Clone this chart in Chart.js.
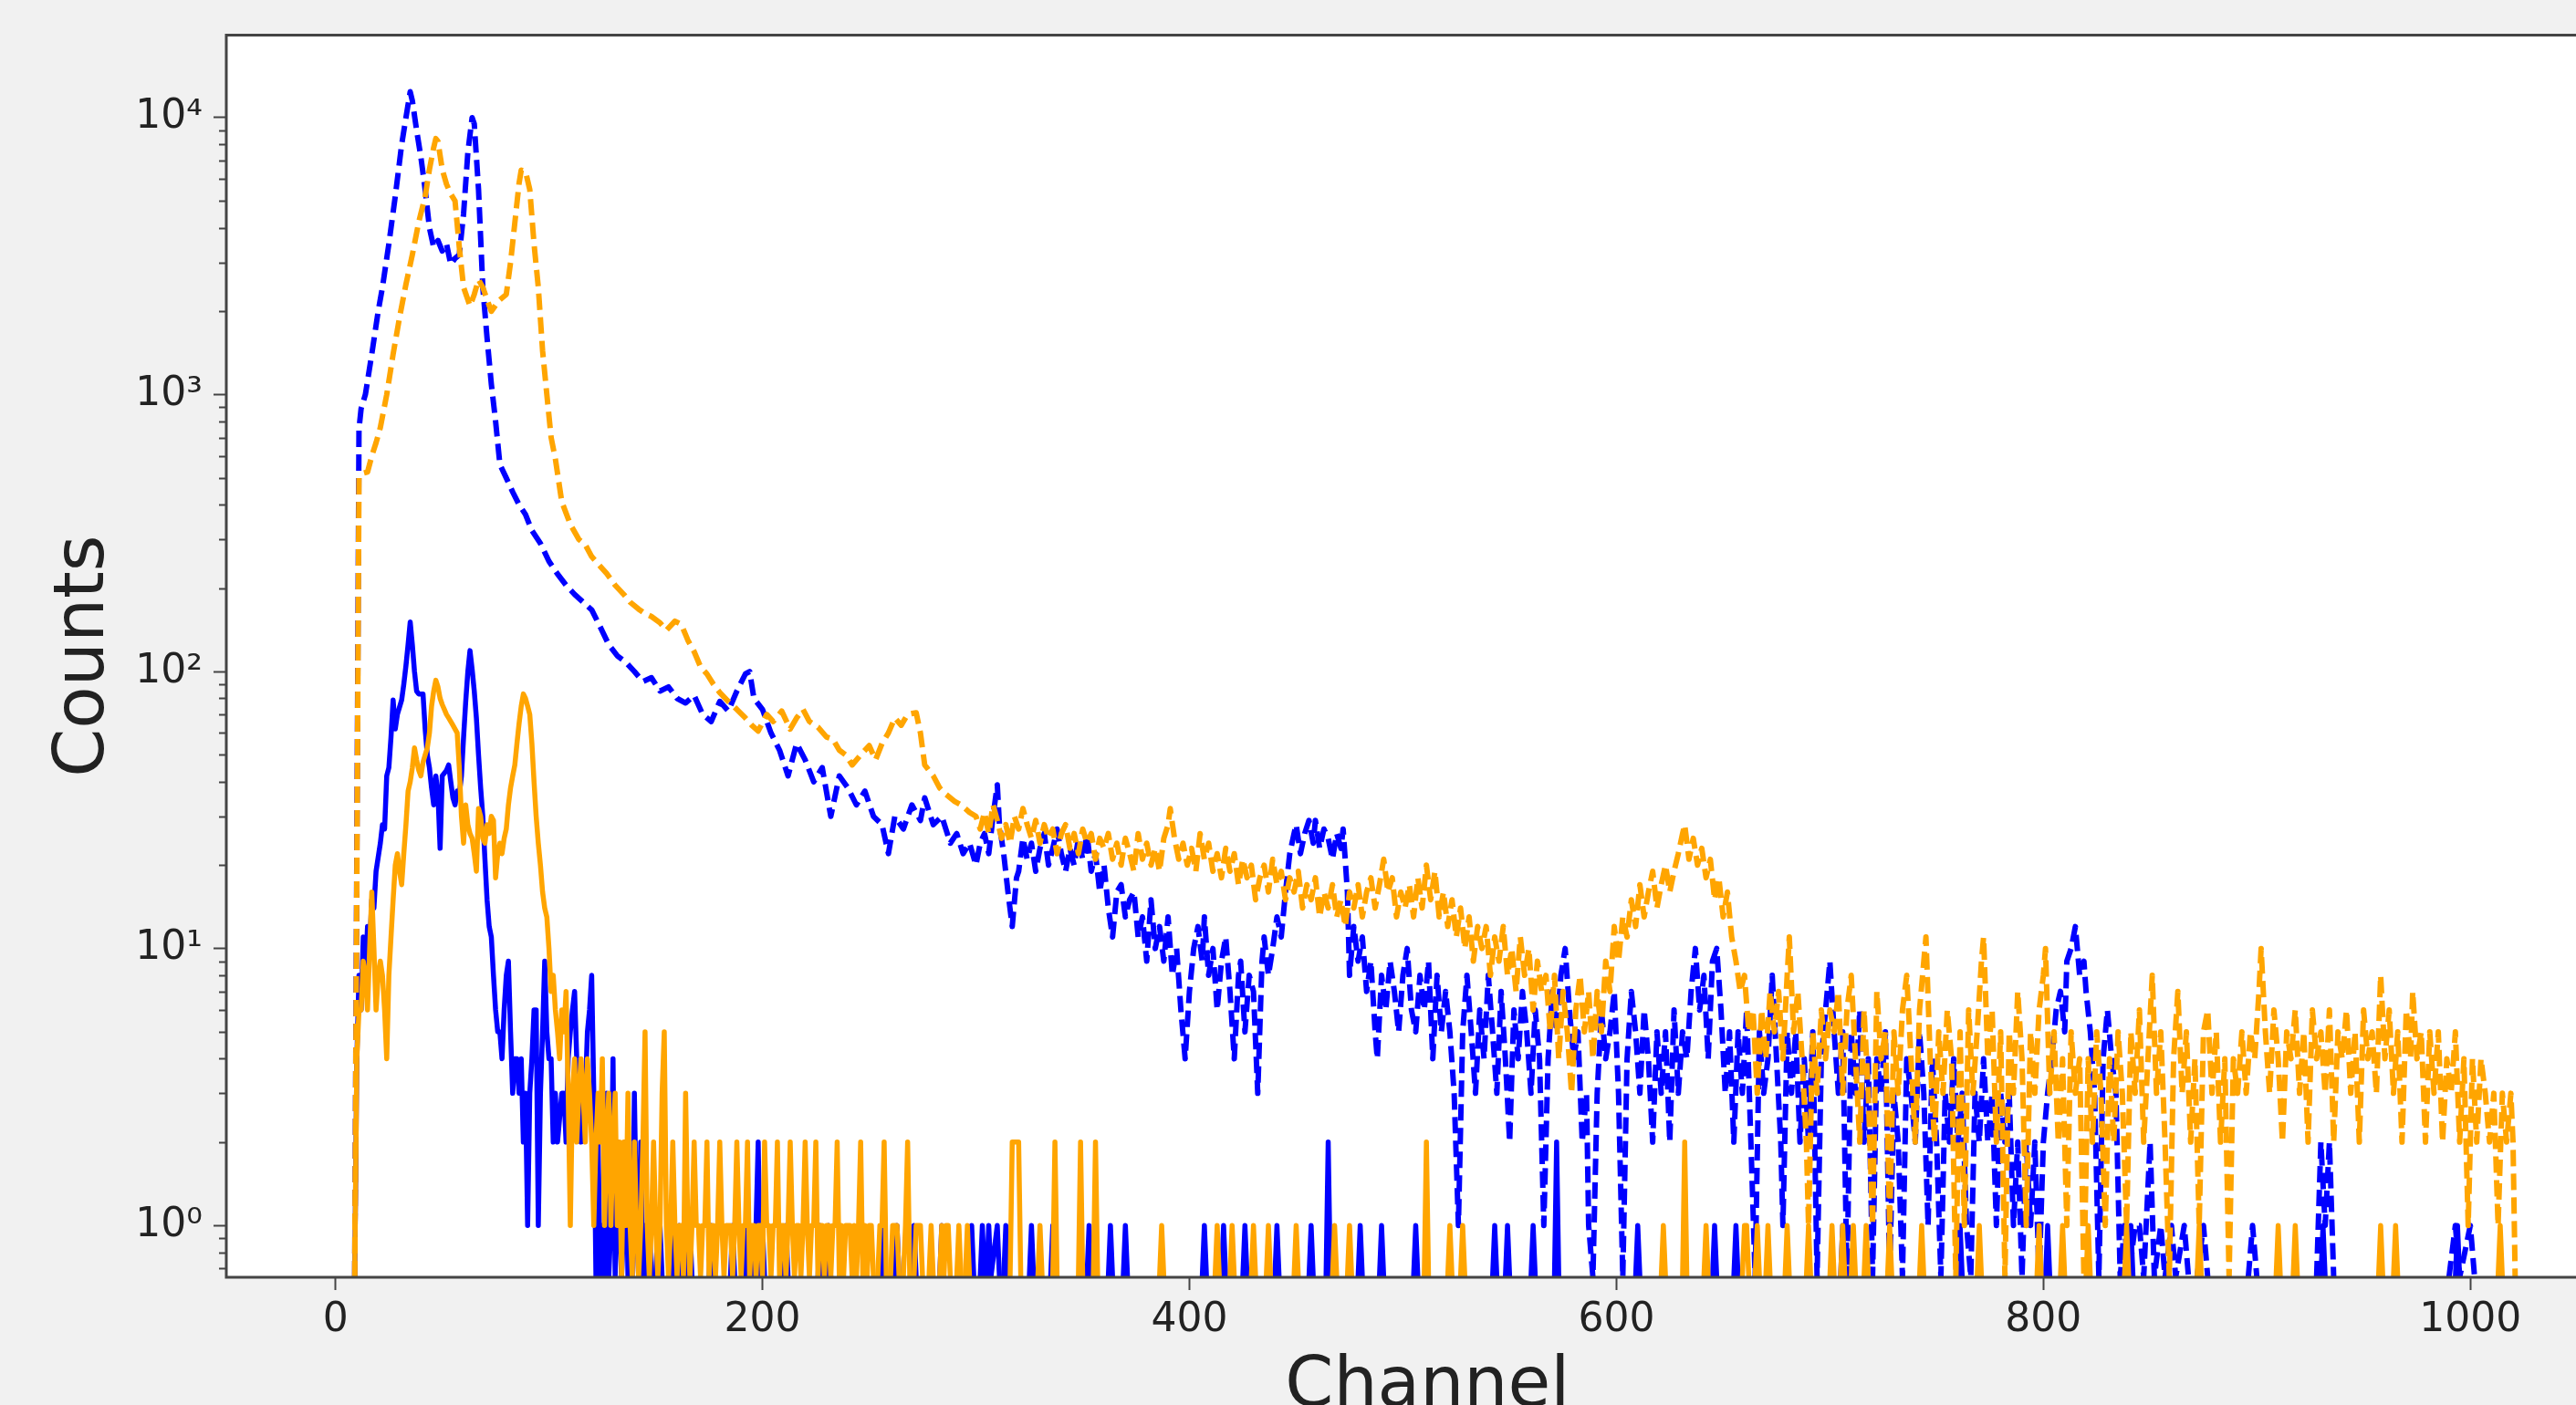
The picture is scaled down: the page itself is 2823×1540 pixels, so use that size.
<!DOCTYPE html>
<html>
<head>
<meta charset="utf-8">
<style>
  html, body { margin: 0; padding: 0; background: #f1f1f1; }
  #wrap { width: 2823px; height: 1540px; }
</style>
</head>
<body>
<div id="wrap"><canvas id="spectrum" width="2823" height="1540"></canvas></div>
<script src="https://cdn.jsdelivr.net/npm/chart.js"></script>
<script>
// [channel, counts]
const blueDashed = [
  [9,0],[11,750],[12,890],[14,1000],[17,1400],[20,2000],[22,2440],[25,3500],[28,5200],[31,8000],[33,10000],[35,12400],
  [36,11500],[38,9000],[40,7200],[42,5500],[44,4000],[46,3400],[48,3600],[50,3300],[52,3500],[54,2950],[56,3100],[58,3200],
  [60,4500],[62,7500],[64,10000],[65,9500],[67,5500],[69,2440],[71,1600],[73,1090],[75,800],[77,560],[80,500],[83,445],
  [86,400],[89,369],[92,323],[96,290],[100,250],[104,225],[108,205],[112,190],[116,178],[120,167],[124,145],[128,125],
  [132,114],[136,108],[140,100],[144,92],[148,95],[152,85],[156,88],[160,80],[164,77],[168,82],[172,70],[176,66],[180,78],
  [184,72],[188,85],[192,98],[194,100],[196,80],[200,73],[204,60],[208,52],[212,42],[216,55],[220,48],[224,40],[228,45],
  [232,30],[236,42],[240,38],[244,33],[248,37],[252,30],[256,28],[259,22],[262,30],[266,27],[270,33],[274,29],[276,35],
  [280,28],[284,30],[288,24],[291,26],[294,22],[297,24],[300,20],[302,24],[304,26],[306,22],[308,30],[310,39],[311,28],
  [313,22],[315,16],[317,12],[319,18],[320,19],[322,25],[324,21],[326,24],[328,19],[330,23],[332,26],[334,20],[336,23],
  [338,27],[340,22],[342,19],[344,23],[346,20],[348,25],[350,21],[352,26],[354,19],[356,22],[358,16],[360,20],[362,14],
  [364,11],[366,16],[368,17],[370,13],[372,15],[374,16],[376,11],[378,13],[380,9],[382,15],[384,10],[386,12],[388,9],
  [390,13],[392,8],[394,10],[396,6],[398,4],[400,7],[402,10],[404,12],[406,9],[407,13],[409,8],[411,10],[413,6],[415,9],
  [417,11],[419,7],[421,4],[423,8],[424,9],[426,5],[428,8],[430,7],[432,3],[434,9],[435,11],[437,8],[439,10],[441,13],
  [443,11],[445,16],[447,22],[449,26],[450,28],[452,22],[454,26],[456,29],[458,24],[459,29],[461,23],[463,27],[465,25],
  [467,21],[469,26],[471,23],[472,27],[474,16],[475,8],[477,12],[479,9],[481,11],[483,7],[485,9],[487,5],[488,4],
  [490,8],[492,6],[494,9],[496,7],[498,5],[500,8],[502,10],[504,6],[506,5],[508,8],[510,6],[512,9],[514,4],[516,8],
  [518,5],[520,7],[522,5],[524,3],[526,1],[528,5],[530,8],[532,5],[534,3],[536,6],[538,4],[540,8],[542,5],[544,3],
  [546,7],[548,4],[550,2],[552,6],[554,4],[556,7],[558,5],[560,3],[562,6],[564,4],[566,1],[568,4],[570,7],[572,5],
  [574,8],[576,10],[578,6],[580,4],[582,5],[584,2],[586,3],[587,1],[589,0],[591,3],[593,6],[595,4],[597,5],[599,7],
  [601,3],[603,0],[605,4],[607,7],[609,5],[611,3],[613,6],[615,4],[617,2],[619,5],[621,3],[623,5],[625,2],[627,6],
  [629,3],[631,5],[633,4],[635,7],[637,10],[639,6],[641,8],[643,4],[645,9],[647,10],[649,6],[651,3],[653,5],[655,2],
  [657,5],[659,3],[661,6],[663,2],[665,0],[667,5],[669,3],[671,4],[673,8],[675,4],[677,2],[678,1],[680,5],[682,3],
  [684,5],[686,2],[688,4],[690,2],[692,5],[694,0],[696,4],[698,6],[700,9],[702,5],[704,3],[706,5],[708,0],[710,5],
  [712,3],[714,6],[716,2],[718,4],[720,0],[722,4],[724,3],[726,5],[728,0],[730,3],[732,2],[734,0],[736,4],[738,3],
  [740,2],[742,5],[744,3],[746,1],[748,4],[750,2],[752,0],[754,3],[756,2],[758,4],[760,2],[762,3],[764,1],[766,0],
  [768,3],[770,2],[772,4],[774,2],[776,3],[778,1],[780,3],[782,2],[784,3],[786,1],[788,2],[790,0],[792,2],[794,1],
  [796,2],[798,0],[800,2],[802,3],[804,4],[806,6],[808,7],[810,5],[811,9],[813,10],[815,12],[817,8],[819,9],[820,7],
  [822,5],[824,3],[826,0],[828,4],[830,6],[832,4],[834,3],[836,0],[838,1],[840,0],[843,1],[845,1],[847,0],[850,2],
  [852,0],[855,1],[857,0],[860,1],[862,0],[866,1],[868,0],[872,0],[875,1],[877,0],[896,0],[898,1],[900,0],[928,0],
  [930,2],[932,1],[934,2],[936,0],[990,0],[993,1],[995,0],[1000,1],[1002,0],[1023,0]
];

const orangeDashed = [
  [9,0],[11,500],[13,520],[15,525],[17,600],[19,670],[21,760],[24,1000],[27,1400],[30,1900],[33,2500],[36,3200],
  [39,4200],[42,5200],[44,6500],[46,7800],[47,8400],[48,8200],[50,6500],[52,5750],[54,5300],[56,5000],[58,3400],
  [60,2440],[62,2200],[63,2090],[65,2300],[67,2600],[69,2440],[71,2200],[73,2000],[75,2100],[77,2200],[80,2300],
  [82,3000],[84,4170],[86,5800],[87,6460],[89,6400],[91,5500],[93,3500],[95,2440],[97,1440],[99,1000],[101,700],
  [103,585],[106,410],[110,340],[114,300],[117,287],[120,260],[124,240],[127,226],[131,205],[135,190],[138,178],
  [142,168],[145,162],[148,158],[152,150],[155,141],[159,152],[162,148],[165,130],[168,118],[171,104],[174,98],
  [177,90],[180,84],[184,78],[188,73],[192,68],[195,64],[198,61],[202,70],[205,66],[209,72],[213,62],[216,68],
  [219,73],[222,66],[226,63],[230,58],[233,57],[236,52],[239,50],[242,46],[246,50],[250,54],[253,48],[256,55],
  [259,60],[262,68],[265,64],[268,70],[272,71],[274,60],[276,46],[280,42],[283,38],[286,36],[290,34],[293,33],
  [297,31],[300,30],[302,27],[304,31],[306,26],[308,33],[310,29],[312,25],[314,28],[316,24],[318,30],[320,27],
  [322,32],[324,28],[326,25],[328,29],[330,24],[332,28],[334,25],[336,27],[338,22],[340,26],[342,28],[344,23],
  [346,26],[348,22],[350,27],[352,24],[354,26],[356,21],[358,25],[360,23],[362,26],[364,21],[366,24],[368,20],
  [370,25],[372,22],[374,19],[376,26],[378,21],[380,24],[382,20],[384,23],[386,19],[388,25],[390,28],[391,32],
  [393,25],[395,21],[397,24],[399,20],[401,23],[403,19],[405,26],[407,21],[409,24],[411,19],[413,22],[415,18],
  [417,23],[419,19],[421,22],[423,17],[425,21],[427,18],[429,20],[431,15],[433,18],[435,20],[437,16],[439,21],
  [441,17],[443,19],[445,15],[447,18],[449,16],[451,19],[453,14],[455,17],[457,15],[459,18],[461,13],[463,16],
  [465,14],[467,17],[469,13],[471,15],[473,12],[475,16],[477,14],[479,17],[481,13],[483,16],[485,18],[487,14],
  [489,17],[491,21],[493,16],[495,18],[497,13],[499,16],[501,14],[503,17],[505,13],[507,18],[509,14],[511,20],
  [513,15],[515,19],[517,13],[519,16],[521,12],[523,15],[525,11],[527,14],[529,10],[531,13],[533,9],[535,12],
  [537,10],[539,12],[541,8],[543,11],[545,9],[547,12],[549,8],[551,10],[553,7],[555,11],[557,8],[559,10],[561,6],
  [563,9],[565,7],[567,8],[569,5],[571,8],[573,4],[575,7],[577,5],[579,3],[581,6],[583,8],[585,5],[587,7],[589,4],
  [591,7],[593,5],[595,9],[597,7],[599,12],[601,9],[603,13],[605,11],[607,15],[609,12],[611,17],[613,13],[615,16],
  [617,19],[619,14],[621,17],[623,20],[625,16],[627,19],[629,22],[631,26],[632,28],[634,21],[636,25],[638,20],
  [640,23],[642,18],[644,21],[646,15],[648,18],[650,13],[652,16],[654,11],[656,9],[658,7],[660,8],[662,5],[664,6],
  [666,3],[668,6],[670,4],[672,7],[674,5],[676,7],[678,4],[680,8],[681,11],[683,5],[685,7],[687,4],[689,2],[690,1],
  [692,5],[694,3],[696,6],[698,4],[700,6],[702,5],[704,7],[706,3],[708,6],[710,8],[712,4],[714,2],[716,6],[718,3],
  [720,1],[722,7],[724,4],[726,5],[728,1],[730,5],[732,3],[734,6],[736,8],[738,4],[740,2],[742,6],[744,9],[745,11],
  [747,4],[749,2],[751,5],[753,3],[755,6],[757,4],[759,0],[761,5],[763,1],[765,6],[767,3],[769,5],[771,9],[772,11],
  [774,4],[776,6],[778,2],[780,5],[782,0],[784,5],[786,3],[788,7],[790,4],[792,1],[794,5],[796,3],[798,6],[800,8],
  [801,10],[803,3],[805,5],[807,2],[809,4],[811,1],[813,5],[815,3],[817,4],[819,0],[821,4],[823,2],[825,5],[827,3],
  [829,1],[831,4],[833,2],[835,5],[837,3],[839,1],[841,5],[843,3],[845,6],[847,2],[849,4],[851,8],[853,3],[855,5],
  [857,2],[859,0],[861,4],[863,7],[865,3],[867,5],[869,2],[871,4],[873,1],[875,5],[877,6],[879,3],[881,5],[883,2],
  [885,4],[887,0],[889,4],[891,3],[893,5],[895,3],[897,5],[899,4],[901,7],[902,10],[904,5],[906,3],[908,6],[910,4],
  [912,2],[914,5],[916,4],[918,6],[920,3],[922,5],[924,2],[926,6],[928,4],[930,5],[932,3],[934,6],[936,2],[938,5],
  [940,4],[942,6],[944,3],[946,5],[948,2],[950,6],[952,4],[954,5],[956,3],[958,8],[960,4],[962,6],[964,3],[966,5],
  [968,2],[970,6],[972,4],[973,7],[975,4],[977,5],[979,2],[981,5],[983,3],[985,5],[987,2],[989,4],[991,3],[993,5],
  [995,2],[997,4],[999,1],[1001,4],[1003,2],[1005,4],[1007,3],[1009,2],[1011,3],[1013,1],[1015,3],[1017,2],
  [1019,3],[1020,2],[1021,0]
];

const blueSolid = [
  [9,0],[10,4],[11,8],[12,6],[13,11],[14,8],[15,12],[16,10],[17,15],[18,14],[19,19],[21,24],[22,28],[23,27],
  [24,42],[25,45],[26,58],[27,79],[28,62],[29,70],[31,79],[32,90],[33,105],[34,125],[35,151],[36,125],[37,100],
  [38,85],[39,83],[41,83],[42,62],[43,50],[44,45],[45,38],[46,33],[47,42],[48,36],[49,23],[50,42],[52,44],
  [53,46],[54,40],[55,35],[56,33],[57,37],[58,36],[59,42],[60,58],[61,78],[62,100],[63,119],[64,102],[65,85],
  [66,68],[67,50],[68,38],[69,30],[70,21],[71,15],[72,12],[73,11],[74,8],[75,6],[76,5],[77,5],[78,4],[79,6],
  [80,8],[81,9],[82,5],[83,3],[84,4],[85,4],[86,3],[87,4],[88,2],[89,3],[90,1],[91,3],[92,4],[93,6],[94,6],
  [95,1],[96,3],[97,5],[98,9],[99,5],[100,4],[101,4],[102,2],[103,3],[104,2],[106,3],[107,3],[108,2],[109,4],
  [110,5],[111,6],[112,7],[113,4],[114,3],[115,2],[116,3],[117,3],[118,5],[119,6],[120,8],[121,3],[122,0],
  [123,2],[124,0],[125,1],[126,0],[127,3],[128,0],[129,1],[130,4],[131,0],[132,2],[133,1],[134,0],[135,1],
  [136,2],[137,0],[138,1],[139,0],[140,3],[141,1],[142,0],[143,2],[144,0],[145,1],[146,0],[147,1],[148,0],
  [150,0],[151,1],[152,1],[153,0],[156,0],[157,1],[158,0],[160,0],[161,1],[162,0],[165,0],[166,1],[167,0],
  [175,0],[176,1],[177,0],[185,0],[186,1],[187,0],[191,0],[192,1],[193,0],[196,0],[197,1],[198,2],[199,0],
  [200,1],[201,0],[210,0],[211,1],[212,0],[226,0],[227,1],[228,0],[230,0],[231,1],[232,0],[255,0],[256,1],
  [257,0],[262,0],[263,1],[264,0],[270,0],[271,1],[272,0],[283,0],[284,1],[285,0],[297,0],[298,1],[299,0],
  [302,0],[303,1],[304,0],[305,0],[306,1],[307,0],[310,1],[311,0],[313,0],[314,1],[315,0],[325,0],[326,1],
  [327,0],[335,0],[336,1],[337,0],[352,0],[353,1],[354,0],[362,0],[363,1],[364,0],[369,0],[370,1],[371,0],
  [406,0],[407,1],[408,0],[415,0],[416,1],[417,0],[425,0],[426,1],[427,0],[440,0],[441,1],[442,0],[456,0],
  [457,1],[458,0],[464,0],[465,2],[466,0],[479,0],[480,1],[481,0],[489,0],[490,1],[491,0],[505,0],[506,1],
  [507,0],[542,0],[543,1],[544,0],[548,0],[549,1],[550,0],[560,0],[561,1],[562,0],[571,0],[572,2],[573,0],
  [609,0],[610,1],[611,0],[645,0],[646,1],[647,0],[655,0],[656,1],[657,0],[705,0],[706,1],[707,0],[760,0],
  [761,1],[762,0],[801,0],[802,1],[803,0],[840,0],[841,1],[842,0],[930,0],[931,1],[932,0],[993,0],[994,1],
  [995,0],[1023,0]
];

const orangeSolid = [
  [9,0],[10,4],[11,6],[12,6],[13,9],[14,8],[15,6],[16,10],[17,16],[18,10],[19,6],[20,8],[21,9],[22,8],[23,6],
  [24,4],[25,8],[26,11],[27,15],[28,20],[29,22],[30,19],[31,17],[32,22],[33,28],[34,37],[35,40],[36,45],
  [37,53],[38,48],[39,44],[40,42],[41,47],[42,50],[43,53],[44,60],[45,75],[46,85],[47,93],[48,88],[49,80],
  [50,76],[51,73],[52,70],[53,68],[54,66],[55,64],[56,62],[57,60],[58,45],[59,30],[60,24],[61,33],[62,28],
  [63,26],[64,25],[65,22],[66,19],[67,32],[68,30],[69,25],[70,24],[71,28],[72,26],[73,30],[74,29],[75,18],
  [76,22],[77,24],[78,22],[79,25],[80,27],[81,33],[82,38],[83,42],[84,46],[85,55],[86,65],[87,75],[88,83],
  [89,80],[90,75],[91,70],[92,55],[93,40],[94,30],[95,24],[96,20],[97,16],[98,14],[99,13],[100,10],[101,7],
  [102,8],[103,6],[104,5],[105,4],[106,6],[107,5],[108,7],[109,3],[110,1],[111,3],[112,4],[113,2],[114,3],
  [115,4],[116,3],[117,2],[118,4],[119,3],[120,2],[121,1],[122,2],[123,3],[124,2],[125,4],[126,1],[127,2],
  [128,3],[129,1],[130,2],[131,3],[132,1],[133,2],[134,0],[135,2],[136,1],[137,3],[138,1],[139,0],[140,2],
  [141,1],[142,0],[143,1],[144,2],[145,5],[146,1],[147,0],[148,1],[149,2],[150,1],[151,0],[152,1],[153,3],
  [154,5],[155,1],[156,0],[157,1],[158,2],[159,1],[160,0],[161,1],[162,1],[163,0],[164,3],[165,1],[166,0],
  [167,1],[168,2],[169,1],[170,1],[171,0],[172,1],[173,1],[174,2],[175,0],[176,1],[177,1],[178,0],[179,1],
  [180,2],[181,1],[182,0],[183,1],[184,1],[185,1],[186,0],[187,1],[188,2],[189,1],[190,0],[191,1],[192,1],
  [193,2],[194,0],[195,1],[196,1],[197,0],[198,1],[199,1],[200,0],[201,2],[202,1],[203,1],[204,0],[205,1],
  [206,1],[207,2],[208,0],[209,1],[210,1],[211,0],[212,1],[213,2],[214,1],[215,0],[216,1],[217,1],[218,0],
  [219,1],[220,2],[221,1],[222,0],[223,1],[224,1],[225,2],[226,0],[227,1],[228,1],[229,0],[230,1],[231,1],
  [232,0],[233,1],[234,1],[235,2],[236,0],[237,1],[238,0],[239,1],[240,1],[241,1],[242,0],[243,1],[244,0],
  [245,1],[246,2],[247,0],[248,1],[249,0],[250,1],[251,1],[252,0],[254,0],[255,1],[256,1],[257,2],[258,0],
  [260,0],[261,1],[262,1],[263,1],[264,0],[266,0],[267,1],[268,2],[269,0],[271,0],[272,1],[273,1],[274,1],
  [275,0],[278,0],[279,1],[280,0],[283,0],[284,1],[285,0],[286,1],[287,1],[288,0],[291,0],[292,1],[293,0],
  [295,0],[296,1],[297,0],[316,0],[317,2],[320,2],[321,0],[329,0],[330,1],[331,0],[336,0],[337,2],[338,0],
  [348,0],[349,2],[350,0],[355,0],[356,2],[357,0],[386,0],[387,1],[388,0],[412,0],[413,1],[414,0],[419,0],
  [420,1],[421,0],[429,0],[430,1],[431,0],[436,0],[437,1],[438,0],[449,0],[450,1],[451,0],[467,0],[468,1],
  [469,0],[474,0],[475,1],[476,0],[510,0],[511,2],[512,0],[521,0],[522,1],[523,0],[527,0],[528,1],[529,0],
  [621,0],[622,1],[623,0],[631,0],[632,2],[633,0],[641,0],[642,1],[643,0],[659,0],[660,1],[661,1],[662,0],
  [665,0],[666,1],[667,0],[670,0],[671,1],[672,0],[679,0],[680,1],[681,0],[689,0],[690,1],[691,0],[700,0],
  [701,1],[702,0],[705,0],[706,1],[707,0],[710,0],[711,1],[712,0],[716,0],[717,1],[718,0],[727,0],[728,1],
  [729,0],[742,0],[743,1],[744,0],[769,0],[770,1],[771,0],[797,0],[798,1],[799,0],[808,0],[809,1],[810,0],
  [820,0],[821,1],[822,0],[838,0],[839,1],[840,0],[872,0],[873,1],[874,0],[909,0],[910,1],[911,0],[917,0],
  [918,1],[919,0],[957,0],[958,1],[959,0],[964,0],[965,1],[966,0],[1013,0],[1014,1],[1015,0],[1023,0]
];

const xTicks = [0, 200, 400, 600, 800, 1000];
const xRange = [-51.15, 1074.15];   // full axes span; the picture is cut at ~1049.5
const yDecades = [1, 10, 100, 1000, 10000];
const yTickLabels = ['10⁰', '10¹', '10²', '10³', '10⁴'];

const toPoints = pairs => pairs.map(([x, y]) => ({ x, y }));
const font = 'DejaVu Sans';

// white plot area, spines, minor log ticks, x label centred on the full axes span
const axesBox = {
  id: 'axesBox',
  beforeDraw(chart) {
    const { ctx, chartArea: a } = chart;
    ctx.save();
    ctx.fillStyle = '#ffffff';
    ctx.fillRect(a.left, a.top, a.right - a.left, a.bottom - a.top);
    ctx.restore();
  },
  afterDatasetsDraw(chart) {
    const { ctx, chartArea: a, scales: { x, y } } = chart;
    ctx.save();
    ctx.strokeStyle = '#444';
    ctx.lineWidth = 3;
    ctx.beginPath();
    ctx.moveTo(a.right + 2, a.top);
    ctx.lineTo(a.left, a.top);
    ctx.lineTo(a.left, a.bottom);
    ctx.lineTo(a.right + 2, a.bottom);
    ctx.stroke();
    ctx.lineWidth = 2;
    ctx.beginPath();
    [0.1, 1, 10, 100, 1000, 10000].forEach(d => {
      for (let m = 2; m <= 9; m++) {
        const v = d * m;
        if (v < y.min || v > y.max) continue;
        const py = Math.round(y.getPixelForValue(v)) + 0.5;
        ctx.moveTo(a.left - 8, py);
        ctx.lineTo(a.left, py);
      }
    });
    ctx.stroke();

    const cx = (x.getPixelForValue(xRange[0]) + x.getPixelForValue(xRange[1])) / 2;
    ctx.fillStyle = '#222';
    ctx.font = '76px "DejaVu Sans"';
    ctx.textAlign = 'center';
    ctx.textBaseline = 'alphabetic';
    ctx.fillText('Channel', cx, a.bottom + 141);
    ctx.restore();
  }
};

// zero counts fall below a log axis: hide the runs between two zeros
const zeroRun = c => (c.p0.parsed.y === 0 && c.p1.parsed.y === 0) ? 'rgba(0,0,0,0)' : undefined;

const line = (data, color, dashed, order) => ({
  data: toPoints(data),
  borderColor: color,
  borderWidth: dashed ? 6 : 5.5,
  borderDash: dashed ? [18, 8] : [],
  borderJoinStyle: 'round',
  pointRadius: 0,
  tension: 0,
  clip: 0,
  segment: { borderColor: zeroRun },
  order
});

new Chart(document.getElementById('spectrum'), {
  type: 'line',
  data: {
    datasets: [
      line(orangeSolid, '#ffa500', false, 0),
      line(orangeDashed, '#ffa500', true, 1),
      line(blueSolid, '#0000ff', false, 2),
      line(blueDashed, '#0000ff', true, 3)
    ]
  },
  plugins: [axesBox],
  options: {
    responsive: false,
    devicePixelRatio: 1,
    animation: false,
    parsing: false,
    layout: { padding: { top: 32, right: 0, bottom: 0, left: 0 } },
    plugins: { legend: { display: false }, tooltip: { enabled: false } },
    scales: {
      x: {
        type: 'linear',
        min: xRange[0],
        max: 1049.5,
        afterFit: s => { s.height = 140; },
        afterBuildTicks: s => { s.ticks = xTicks.map(v => ({ value: v })); },
        border: { display: false },
        grid: { drawOnChartArea: false, drawTicks: true, tickLength: 14, tickWidth: 2, tickColor: '#444' },
        ticks: {
          autoSkip: false, maxRotation: 0, padding: 7, color: '#222',
          font: { family: font, size: 44 },
          callback: v => String(v)
        },
        title: { display: false }
      },
      y: {
        type: 'logarithmic',
        min: 0.65,
        max: 19870,
        afterFit: s => { s.width = 248; },
        afterBuildTicks: s => { s.ticks = yDecades.map(v => ({ value: v, major: true })); },
        border: { display: false },
        grid: { drawOnChartArea: false, drawTicks: true, tickLength: 14, tickWidth: 2, tickColor: '#444' },
        ticks: {
          autoSkip: false, padding: 12, color: '#222',
          font: { family: font, size: 44 },
          callback: v => yTickLabels[yDecades.indexOf(v)]
        },
        title: {
          display: true, text: 'Counts', color: '#222',
          font: { family: font, size: 76, lineHeight: 0.7 },
          padding: { top: 67, bottom: 0 }
        }
      }
    }
  }
});
</script>
</body>
</html>
